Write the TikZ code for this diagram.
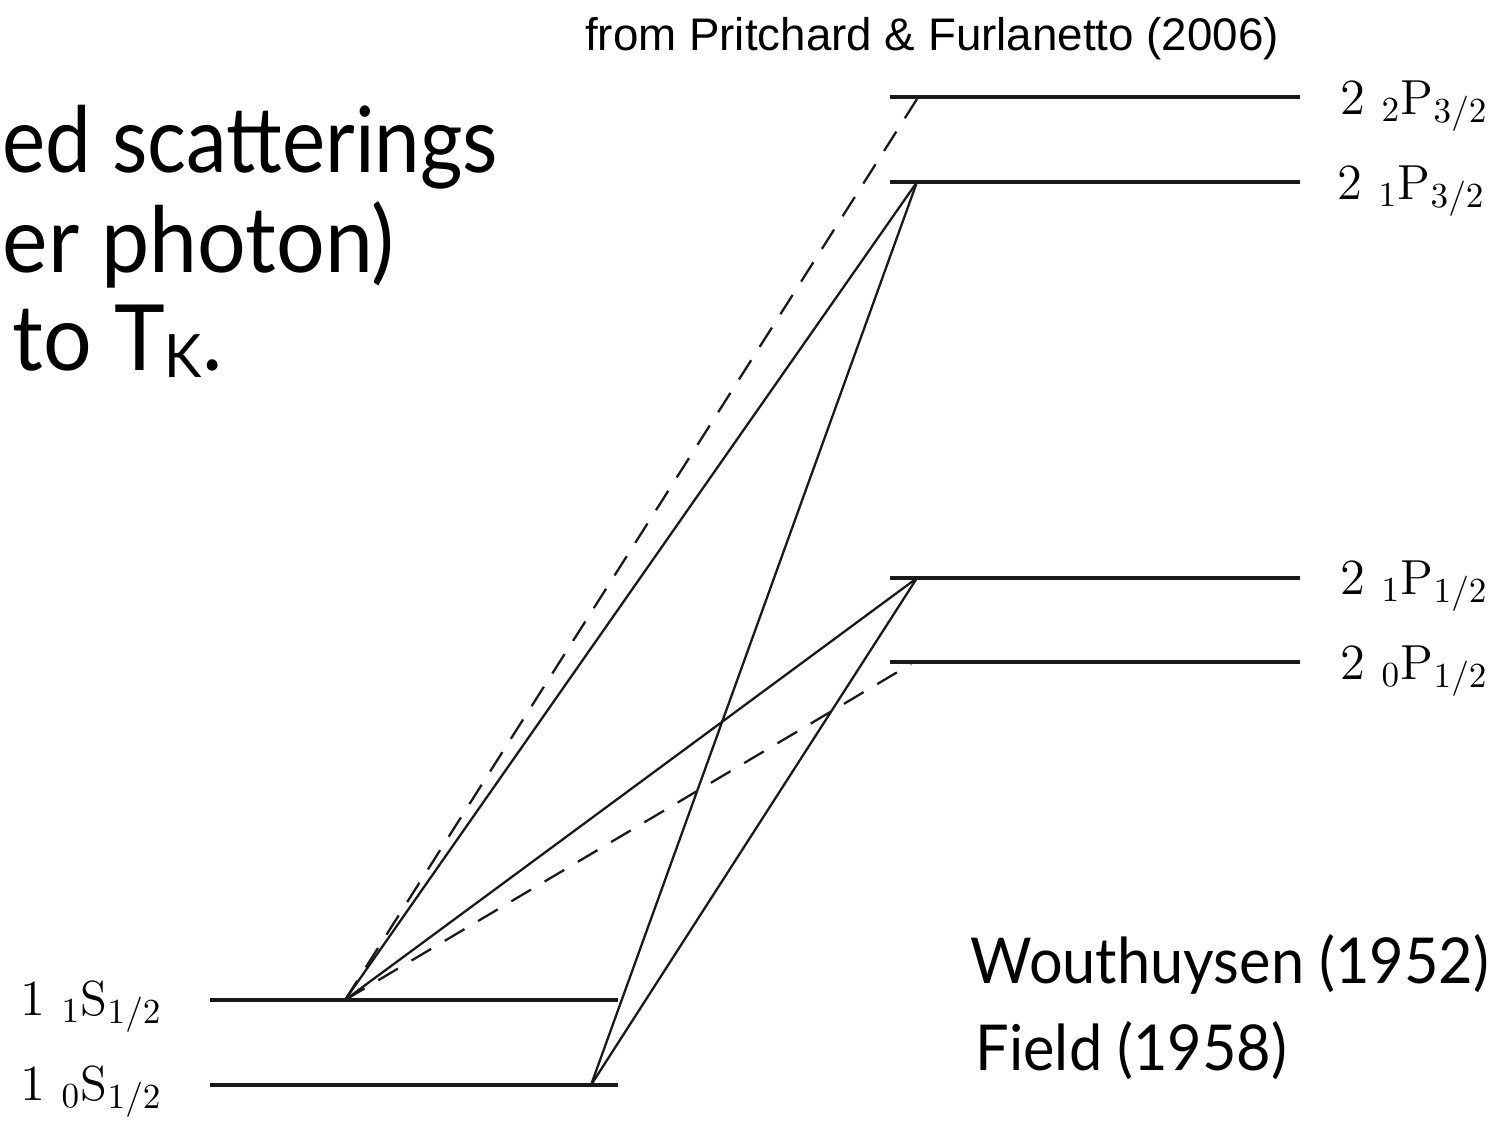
\documentclass[tikz,border=0pt]{standalone}
\usepackage{amsmath}
\usepackage{graphicx}
\usepackage{fontspec}
\newfontfamily\slidefont[FakeStretch=0.94]{Lato}
\newfontfamily\srcfont{Liberation Sans}
\usepackage{tikz}
\usetikzlibrary{positioning}
\tikzset{
  level/.style   = {line width=0.9pt, draw=black!90},
  trans/.style   = {line width=0.65pt, draw=black!90},
  forbid/.style  = {line width=0.65pt, draw=black!90, dash pattern=on 6.5pt off 4.5pt},
  lvllab/.style  = {anchor=base west, inner sep=0pt, font=\fontsize{14}{14}\selectfont},
  slide/.style   = {inner sep=0pt, font=\slidefont\fontsize{26}{26}\selectfont},
  slidesm/.style = {inner sep=0pt, anchor=base west, font=\slidefont\fontsize{18}{18}\selectfont},
}

\begin{document}
\begin{tikzpicture}[x=0.01cm, y=-0.01cm]
\useasboundingbox (0,0) rectangle (1503,1123);

%% level ends
\coordinate (pa) at (890,97);   \coordinate (pa-e) at (1300,97);
\coordinate (pb) at (890,182);  \coordinate (pb-e) at (1300,182);
\coordinate (pc) at (890,578);  \coordinate (pc-e) at (1300,578);
\coordinate (pd) at (890,662);  \coordinate (pd-e) at (1300,662);
\coordinate (sa) at (210,1000); \coordinate (sa-e) at (618,1000);
\coordinate (sb) at (210,1085); \coordinate (sb-e) at (618,1085);

%% transition feet
\coordinate (ta) at (917,99);
\coordinate (tb) at (917,182);
\coordinate (tc) at (917,578);
\coordinate (td) at (911,664);
\coordinate (fa) at (345,1000);
\coordinate (fb) at (591,1085);

\foreach \a/\b in {pa/pa-e, pb/pb-e, pc/pc-e, pd/pd-e, sa/sa-e, sb/sb-e}
  \draw[level] (\a) -- (\b);

\draw[forbid] (fa) -- (ta);
\draw[trans]  (fa) -- (tb);
\draw[trans]  (fa) -- (tc);
\draw[forbid] (fa) -- (td);
\draw[trans]  (fb) -- (tb);
\draw[trans]  (fb) -- (tc);

%% level labels
\node[lvllab] (lpa) at (1340,114)  {$2\ {}_2\mathrm{P}_{3/2}$};
\node[lvllab] (lpb) at (1337,199)  {$2\ {}_1\mathrm{P}_{3/2}$};
\node[lvllab] (lpc) at (1340,594)  {$2\ {}_1\mathrm{P}_{1/2}$};
\node[lvllab] (lpd) at (1340,679)  {$2\ {}_0\mathrm{P}_{1/2}$};
\node[lvllab] (lsa) at (20,1015)   {$1\ {}_1\mathrm{S}_{1/2}$};
\node[lvllab] (lsb) at (20,1100)   {$1\ {}_0\mathrm{S}_{1/2}$};

%% slide text
\node[slide, anchor=base west] (ln1) at (2,172) {\scalebox{0.95}[1]{ed scatterings}};
\node[slide, anchor=base east] (ln2) at (395,272) {er photon)};
\node[slide, anchor=base west] (ln3) at (12,370)
  {to T\raisebox{-2pt}{\fontsize{17}{17}\selectfont K}.};
\node[slidesm] (wou) at (970,983)  {Wouthuysen (1952)};
\node[slidesm] (fld) at (975,1070) {Field (1958)};

\node[anchor=base, inner sep=0pt, font=\srcfont\fontsize{13}{13}\selectfont]
  (src) at (932,50) {from Pritchard \& Furlanetto (2006)};

\end{tikzpicture}
\end{document}
